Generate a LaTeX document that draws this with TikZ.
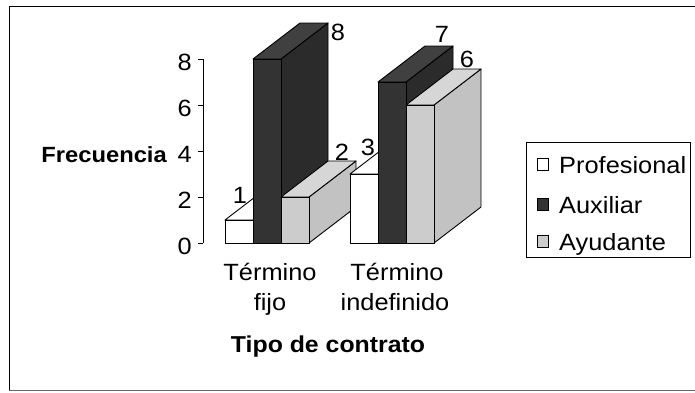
\documentclass[tikz,border=0pt]{standalone}
\usepackage{fontspec}
\setmainfont[FakeStretch=1.08]{Liberation Sans}
\begin{document}
\begin{tikzpicture}[x=1pt,y=-1pt,
  every node/.style={font=\fontsize{23.5}{29}\selectfont, inner sep=0pt},
  bold/.style={font=\fontsize{23}{29}\selectfont\bfseries},
  barline/.style={draw=black, line width=0.9pt, line join=round}]
\useasboundingbox (0,0) rectangle (695,392);
\definecolor{auxf}{gray}{0.2}
\definecolor{auxs}{gray}{0.17}
\definecolor{auxt}{gray}{0.25}
\definecolor{ayuf}{gray}{0.8}
\definecolor{ayus}{gray}{0.76}
\definecolor{ayut}{gray}{0.84}
\newcommand\mybar[5]{%
  \pgfmathsetmacro\yt{243-23*#2}%
  \filldraw[barline, fill=#4] (#1+28,243) -- (#1+75,207) -- (#1+75,\yt-36) -- (#1+28,\yt) -- cycle;
  \filldraw[barline, fill=#5] (#1,\yt) -- (#1+47,\yt-36) -- (#1+75,\yt-36) -- (#1+28,\yt) -- cycle;
  \filldraw[barline, fill=#3] (#1,243) rectangle (#1+28,\yt);
}
% outer frame
\draw[line width=1pt] (9,391) -- (9,6) -- (700,6);
\draw[line width=0.6pt, black!60] (9,390) -- (700,390);
% axis
\draw[line width=0.8pt] (203,59) -- (203,243);
\foreach \v/\y in {0/243,2/197,4/151,6/105,8/59}{
  \draw[line width=0.8pt] (198,\y) -- (203,\y);
  \node[anchor=base east] (t\v) at (192,\y+11) {\v};
}
\node[bold, font=\fontsize{22}{26}\selectfont\bfseries, anchor=base east] (ylab) at (167,162) {Frecuencia};
% bars group 1
\mybar{225}{1}{white}{white}{white}
\mybar{253}{8}{auxf}{auxs}{auxt}
\mybar{281}{2}{ayuf}{ayus}{ayut}
% bars group 2
\mybar{350}{3}{white}{white}{white}
\mybar{378}{7}{auxf}{auxs}{auxt}
\mybar{406}{6}{ayuf}{ayus}{ayut}
% value labels
\node[anchor=base] (v1) at (240,203) {1};
\node[anchor=base] (v8) at (338,40) {8};
\node[anchor=base] (v2) at (342,160) {2};
\node[anchor=base] (v3) at (368,155) {3};
\node[anchor=base] (v7) at (442,42) {7};
\node[anchor=base] (v6) at (467,67) {6};
% categories
\node[anchor=base] (c1a) at (270,280) {Término};
\node[anchor=base] (c1b) at (270,310) {fijo};
\node[anchor=base] (c2a) at (397,280) {Término};
\node[anchor=base] (c2b) at (395,310) {indefinido};
\node[bold, anchor=base] (xlab) at (328,352) {Tipo de contrato};
% legend
\draw[line width=1pt] (526,142) rectangle (690,257);
\draw[line width=0.8pt, fill=white] (537,158) rectangle (548,170);
\draw[line width=0.8pt, fill=auxf] (537,198) rectangle (548,210);
\draw[line width=0.8pt, fill=ayuf] (537,235) rectangle (548,247);
\node[anchor=base west] (l1) at (559,173) {Profesional};
\node[anchor=base west] (l2) at (559,213) {Auxiliar};
\node[anchor=base west] (l3) at (559,250) {Ayudante};
\end{tikzpicture}
\end{document}
